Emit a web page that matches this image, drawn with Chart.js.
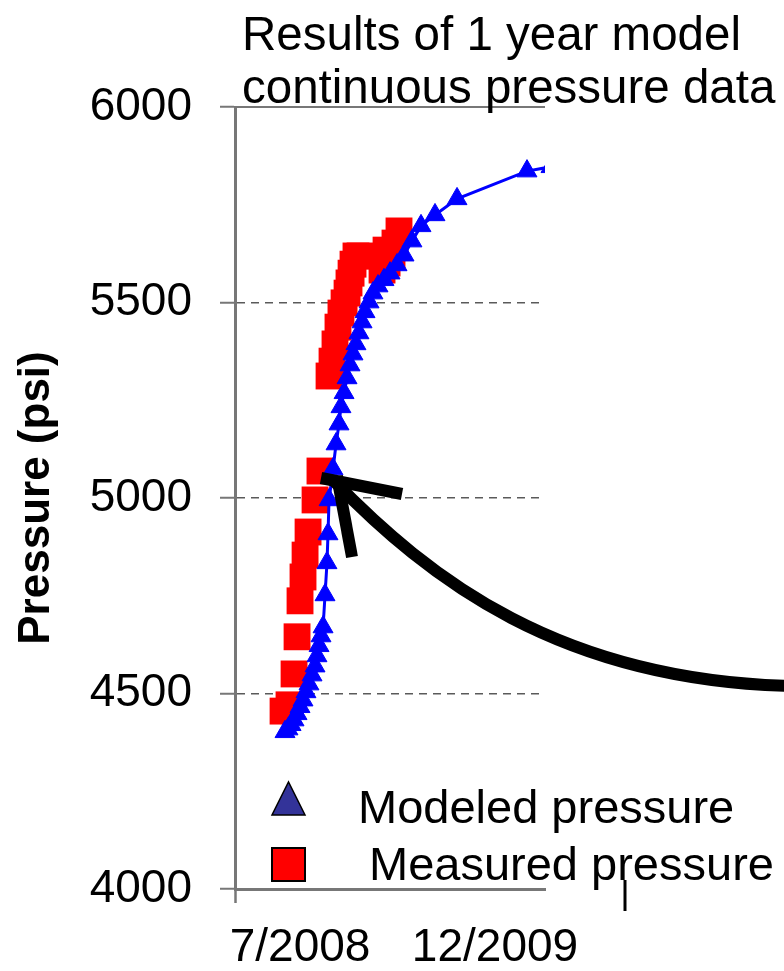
<!DOCTYPE html>
<html>
<head>
<meta charset="utf-8">
<script src="https://cdn.jsdelivr.net/npm/chart.js@4"></script>
<style>
  body { margin: 0; background: #fff; }
  canvas { display: block; }
</style>
</head>
<body>
<canvas id="chart" width="784" height="971"></canvas>
<script>
// x values are months counted from Jan 2008 (0 = 1/2008)
let xTickValues = [6, 23];
let xTickLabels = ['7/2008', '12/2009'];
let yTickStep = 500;

let titleLines = ['Results of 1 year model', 'continuous pressure data'];

let modeledMonths = [4.69, 4.95, 5.22, 5.48, 5.74, 6.00, 6.26, 6.52, 6.78, 7.05,
    7.31, 7.48, 7.66, 7.83, 8.01, 8.18, 8.35, 8.44, 8.53, 8.88,
    9.14, 9.40, 9.57, 9.84, 10.10, 10.36, 10.62, 10.88, 11.14, 11.41,
    11.67, 12.02, 12.36, 12.80, 13.32, 13.85, 14.46, 15.07, 15.76, 16.55,
    17.77, 19.69, 25.79, 27.88];
let modeledPsi = [4402, 4409, 4420, 4432, 4448, 4466, 4483, 4504, 4524, 4547,
    4570, 4596, 4622, 4647, 4670, 4752, 4834, 4908, 4995, 5074,
    5138, 5189, 5233, 5269, 5307, 5340, 5368, 5394, 5422, 5450,
    5476, 5501, 5524, 5542, 5558, 5575, 5596, 5621, 5657, 5696,
    5724, 5765, 5836, 5847];

let measuredMonths = [4.52, 5.04, 5.48, 5.74, 6.00, 6.26, 6.44, 6.70, 7.31, 7.74,
    8.53, 8.79, 9.05, 9.31, 9.57, 9.84, 10.10, 10.27, 10.45, 10.62,
    10.88, 11.23, 13.15, 13.50, 13.59, 14.02, 14.28, 14.63];
let measuredPsi = [4455, 4471, 4550, 4645, 4737, 4798, 4854, 4913, 4995, 5069,
    5312, 5350, 5394, 5437, 5473, 5499, 5524, 5550, 5575, 5598,
    5619, 5619, 5583, 5634, 5601, 5622, 5652, 5683];

let fontFamily = "'Liberation Sans', Arial, sans-serif";
Chart.defaults.font.family = fontFamily;
Chart.defaults.color = '#000';

function toPoints(xs, ys) {
    return xs.map((x, i) => ({ x: x, y: ys[i] }));
}

// title, drawn left aligned above the plot
const titlePlugin = {
    id: 'slideTitle',
    afterDraw(chart) {
        let ctx = chart.ctx;
        ctx.save();
        ctx.font = '47.5px ' + fontFamily;
        ctx.fillStyle = '#000';
        ctx.textBaseline = 'alphabetic';
        ctx.fillText(titleLines[0], 242, 50);
        ctx.fillText(titleLines[1], 242, 103);
        ctx.restore();
    }
};

// solid line on top of the plot at the max value
const topLinePlugin = {
    id: 'topLine',
    beforeDatasetsDraw(chart) {
        let ctx = chart.ctx;
        let a = chart.chartArea;
        let y = chart.scales.y.getPixelForValue(chart.scales.y.max);
        ctx.save();
        ctx.strokeStyle = '#777';
        ctx.lineWidth = 2;
        ctx.beginPath();
        ctx.moveTo(a.left, y);
        ctx.lineTo(a.right, y);
        ctx.stroke();
        ctx.restore();
    }
};

// legend sits inside the plot, bottom left
const legendPlugin = {
    id: 'insideLegend',
    afterDatasetsDraw(chart) {
        let ctx = chart.ctx;
        let a = chart.chartArea;
        let ds = chart.data.datasets;
        let x0 = a.left + 37;
        ctx.save();

        ctx.beginPath();
        ctx.moveTo(x0, a.bottom - 74);
        ctx.lineTo(x0 + 33, a.bottom - 74);
        ctx.lineTo(x0 + 16.5, a.bottom - 107);
        ctx.closePath();
        ctx.fillStyle = '#333399';
        ctx.fill();
        ctx.lineWidth = 1.5;
        ctx.strokeStyle = '#000';
        ctx.stroke();

        ctx.fillStyle = '#FF0000';
        ctx.fillRect(x0, a.bottom - 41, 33, 33);
        ctx.lineWidth = 2;
        ctx.strokeRect(x0, a.bottom - 41, 33, 33);

        ctx.fillStyle = '#000';
        ctx.font = '47px ' + fontFamily;
        ctx.textBaseline = 'alphabetic';
        ctx.fillText(ds[0].label, a.left + 123, a.bottom - 66);
        ctx.fillText(ds[1].label, a.left + 134, a.bottom - 9);
        ctx.restore();
    }
};

// hand drawn arrow pointing at the model curve
const arrowPlugin = {
    id: 'arrow',
    afterDraw(chart) {
        let ctx = chart.ctx;
        ctx.save();
        ctx.strokeStyle = '#000';
        ctx.lineWidth = 12;
        ctx.lineCap = 'butt';

        ctx.beginPath();
        ctx.moveTo(332, 479);
        ctx.bezierCurveTo(430, 580, 560, 680, 790, 686);
        ctx.stroke();

        ctx.beginPath();
        ctx.moveTo(321, 478);
        ctx.lineTo(402, 494);
        ctx.stroke();

        ctx.beginPath();
        ctx.moveTo(337, 476);
        ctx.lineTo(352, 557);
        ctx.stroke();

        // little text cursor mark under the legend
        ctx.lineWidth = 3;
        ctx.beginPath();
        ctx.moveTo(625, 880);
        ctx.lineTo(625, 911);
        ctx.stroke();
        ctx.restore();
    }
};

document.addEventListener('DOMContentLoaded', function () {
    let ctx = document.getElementById('chart');

    let chart = new Chart(ctx, {
        type: 'scatter',
        data: {
            datasets: [{
                label: 'Modeled pressure',
                data: toPoints(modeledMonths, modeledPsi),
                showLine: true,
                borderColor: '#0000FF',
                borderWidth: 3,
                backgroundColor: '#0000FF',
                pointStyle: 'triangle',
                pointRadius: 11.5,
                pointBorderWidth: 1,
                pointBorderColor: '#0000FF',
                tension: 0,
                clip: 0
            }, {
                label: 'Measured pressure',
                data: toPoints(measuredMonths, measuredPsi),
                showLine: false,
                backgroundColor: '#FF0000',
                borderColor: '#FF0000',
                pointStyle: 'rect',
                pointRadius: 19,
                pointBorderWidth: 0,
                clip: 0
            }]
        },
        options: {
            responsive: false,
            animation: false,
            layout: {
                padding: { left: 0, top: 107, right: 239, bottom: 0 }
            },
            plugins: {
                legend: { display: false },
                title: { display: false },
                tooltip: { enabled: false }
            },
            scales: {
                x: {
                    type: 'linear',
                    min: 0.33,
                    max: 27.36,
                    afterBuildTicks: function (scale) {
                        scale.ticks = [{ value: scale.min }].concat(xTickValues.map(v => ({ value: v })));
                    },
                    afterFit: function (scale) {
                        scale.height = 82;
                    },
                    ticks: {
                        autoSkip: false,
                        maxRotation: 0,
                        padding: 18,
                        font: { size: 46 },
                        callback: function (value) {
                            let k = xTickValues.indexOf(value);
                            return k >= 0 ? xTickLabels[k] : '';
                        }
                    },
                    grid: {
                        drawOnChartArea: false,
                        drawTicks: true,
                        tickLength: 14,
                        tickWidth: 2.5,
                        tickColor: c => c.index === 0 ? '#777' : 'rgba(0,0,0,0)'
                    },
                    border: { display: true, color: '#777', width: 3 }
                },
                y: {
                    min: 4000,
                    max: 6000,
                    afterFit: function (scale) {
                        scale.width = 235;
                    },
                    ticks: {
                        stepSize: yTickStep,
                        padding: 28,
                        font: { size: 46 },
                        callback: v => String(v)
                    },
                    grid: {
                        color: c => (c.tick && (c.tick.value === 4000 || c.tick.value === 6000)) ? 'rgba(0,0,0,0)' : '#5a5a5a',
                        lineWidth: 1.5,
                        drawTicks: true,
                        tickLength: 15,
                        tickColor: '#777',
                        tickWidth: 2,
                        tickBorderDash: []
                    },
                    border: { display: true, color: '#777', width: 3, dash: [8, 6] },
                    title: {
                        display: true,
                        text: 'Pressure (psi)',
                        font: { size: 44, weight: 'bold' },
                        padding: { top: 10, bottom: 0 }
                    }
                }
            }
        },
        plugins: [titlePlugin, topLinePlugin, legendPlugin, arrowPlugin]
    });
});
</script>
</body>
</html>
